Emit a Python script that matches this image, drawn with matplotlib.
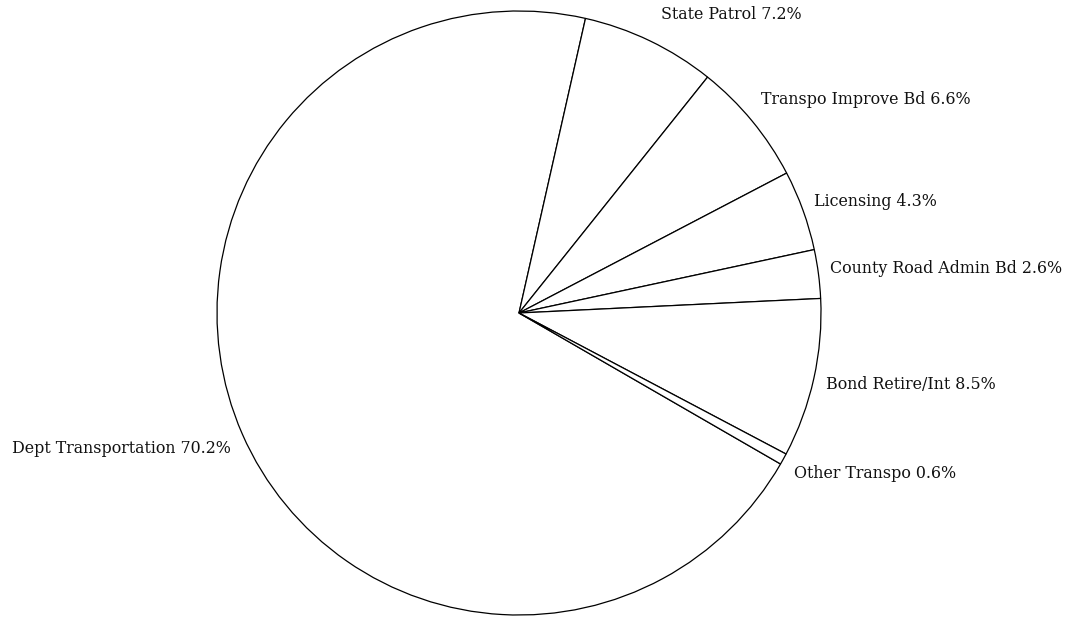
import matplotlib
matplotlib.use("Agg")
import matplotlib.pyplot as plt

categories = ["Dept Transportation", "State Patrol", "Transpo Improve Bd", "Licensing",
              "County Road Admin Bd", "Bond Retire/Int", "Other Transpo"]
shares = [70.2, 7.2, 6.6, 4.3, 2.6, 8.5, 0.6]
labels = [f"{c} {v:.1f}%" for c, v in zip(categories, shares)]

W, H = 1078, 617
fig = plt.figure(figsize=(W / 100, H / 100), dpi=100)
ax = fig.add_axes([0, 0, 1, 1])
R = 302.0
cx, cy = 519.0, H - 313.0

wedges, texts = ax.pie(shares, labels=labels, startangle=-30, counterclock=False,
                       colors=["white"] * len(shares),
                       wedgeprops=dict(edgecolor="black", linewidth=0.9),
                       labeldistance=1.04,
                       textprops=dict(family="DejaVu Serif", fontsize=11.4, color="#111111"),
                       frame=True)
# small label nudges (in pie-radius units) to mimic reference placement
nudges = [(0.0, -0.033), (0.02, 0.05), (0.0, 0.045), (0.0, 0.017),
          (0.0, 0.012), (0.0, -0.01), (0.0, -0.03)]
for t, (dx, dy) in zip(texts, nudges):
    x, y = t.get_position()
    t.set_position((x + dx, y + dy))

ax.set_xlim(-cx / R, (W - cx) / R)
ax.set_ylim(-cy / R, (H - cy) / R)
ax.set_aspect("auto")
ax.axis("off")

fig.savefig("out.png", dpi=100, facecolor="white")
